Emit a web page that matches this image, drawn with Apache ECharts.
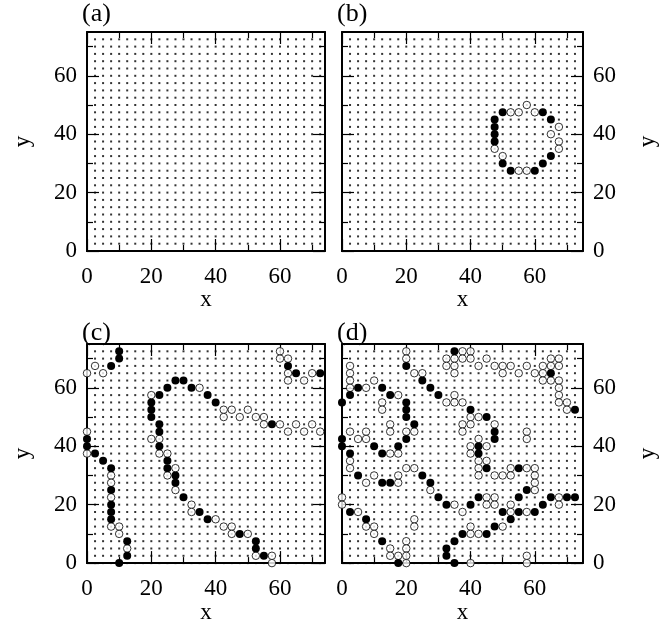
<!DOCTYPE html>
<html><head><meta charset="utf-8">
<script src="https://cdn.jsdelivr.net/npm/echarts@6/dist/echarts.min.js"></script>
<style>html,body{margin:0;padding:0;background:#fff}#c{width:669px;height:625px}</style>
</head><body><div id="c"></div>
<script>
const panelLabels = ['(a)', '(b)', '(c)', '(d)'];
const majorTicks = [0, 20, 40, 60];
const minorTicks = [10, 30, 50, 70];
const latticeSites = [0, 2.5, 5, 7.5, 10, 12.5, 15, 17.5, 20, 22.5, 25, 27.5, 30, 32.5, 35, 37.5, 40, 42.5, 45, 47.5, 50, 52.5, 55, 57.5, 60, 62.5, 65, 67.5, 70, 72.5];

const aFilled = [];
const aOpen = [];

const bFilled = [[50,47.5],[62.5,47.5],[47.5,45],[65,45],[47.5,42.5],[47.5,40],[47.5,37.5],[65,32.5],[50,30],[62.5,30],[52.5,27.5],[60,27.5]];
const bOpen = [[57.5,50],[52.5,47.5],[55,47.5],[60,47.5],[67.5,42.5],[65,40],[67.5,37.5],[47.5,35],[67.5,35],[50,32.5],[55,27.5],[57.5,27.5]];

const cFilled = [[10,72.5],[10,70],[7.5,67.5],[62.5,67.5],[65,65],[72.5,65],[22.5,57.5],[20,55],[20,52.5],[20,50],[25,60],[27.5,62.5],[30,62.5],[32.5,60],[37.5,57.5],[40,55],[57.5,47.5],[22.5,47.5],[22.5,45],[22.5,40],[25,35],[25,32.5],[27.5,30],[27.5,27.5],[30,22.5],[35,17.5],[37.5,15],[47.5,10],[52.5,7.5],[52.5,5],[55,2.5],[0,42.5],[0,40],[2.5,37.5],[5,35],[7.5,32.5],[7.5,25],[7.5,20],[7.5,17.5],[7.5,15],[12.5,7.5],[12.5,2.5],[10,0]];
const cOpen = [[2.5,67.5],[0,65],[5,65],[60,72.5],[60,70],[62.5,70],[62.5,65],[62.5,62.5],[67.5,62.5],[70,65],[20,57.5],[35,60],[42.5,52.5],[45,52.5],[42.5,50],[47.5,50],[50,52.5],[52.5,50],[55,50],[55,47.5],[60,47.5],[62.5,45],[65,47.5],[67.5,45],[70,47.5],[72.5,45],[20,42.5],[22.5,42.5],[22.5,37.5],[25,37.5],[25,30],[27.5,32.5],[27.5,25],[32.5,20],[32.5,17.5],[40,15],[42.5,12.5],[45,12.5],[45,10],[50,10],[52.5,2.5],[57.5,2.5],[57.5,0],[0,45],[0,37.5],[7.5,30],[7.5,27.5],[7.5,22.5],[7.5,12.5],[10,12.5],[10,10],[12.5,5]];

const dFilled = [[20,67.5],[35,72.5],[65,65],[72.5,52.5],[2.5,57.5],[5,60],[0,55],[12.5,60],[15,57.5],[25,62.5],[27.5,60],[30,57.5],[20,55],[20,52.5],[20,50],[22.5,47.5],[20,42.5],[40,52.5],[45,50],[47.5,45],[47.5,42.5],[0,42.5],[0,40],[10,40],[17.5,40],[12.5,37.5],[2.5,37.5],[42.5,40],[42.5,37.5],[45,32.5],[55,32.5],[57.5,25],[5,30],[12.5,27.5],[15,27.5],[25,30],[27.5,27.5],[30,22.5],[32.5,20],[40,20],[42.5,22.5],[2.5,17.5],[7.5,15],[12.5,7.5],[17.5,0],[32.5,5],[32.5,2.5],[35,7.5],[35,0],[37.5,10],[45,10],[47.5,12.5],[55,22.5],[50,17.5],[55,17.5],[60,17.5],[52.5,15],[62.5,20],[65,22.5],[70,22.5],[72.5,22.5]];
const dOpen = [[20,72.5],[20,70],[37.5,72.5],[40,72.5],[32.5,70],[35,70],[37.5,70],[40,70],[32.5,67.5],[35,67.5],[35,65],[45,70],[42.5,67.5],[47.5,67.5],[50,67.5],[52.5,67.5],[50,65],[55,65],[57.5,67.5],[60,65],[62.5,65],[62.5,67.5],[65,70],[67.5,70],[65,67.5],[67.5,67.5],[62.5,62.5],[65,62.5],[67.5,62.5],[67.5,60],[67.5,57.5],[67.5,55],[70,55],[70,52.5],[2.5,67.5],[2.5,65],[2.5,62.5],[2.5,60],[7.5,60],[10,62.5],[17.5,57.5],[12.5,55],[12.5,52.5],[22.5,65],[25,65],[32.5,55],[35,57.5],[35,55],[37.5,55],[20,45],[22.5,45],[40,50],[42.5,50],[37.5,47.5],[40,47.5],[37.5,45],[47.5,47.5],[15,47.5],[15,45],[7.5,45],[5,42.5],[7.5,42.5],[2.5,45],[15,37.5],[17.5,37.5],[2.5,35],[2.5,32.5],[42.5,42.5],[40,40],[45,40],[40,37.5],[42.5,35],[45,35],[42.5,32.5],[42.5,30],[57.5,45],[57.5,42.5],[52.5,32.5],[57.5,32.5],[60,32.5],[60,30],[60,27.5],[60,25],[47.5,30],[50,30],[52.5,30],[10,30],[17.5,27.5],[17.5,30],[7.5,27.5],[20,32.5],[22.5,32.5],[27.5,25],[35,20],[37.5,17.5],[45,22.5],[47.5,22.5],[45,20],[47.5,20],[0,22.5],[0,20],[5,17.5],[7.5,12.5],[10,12.5],[10,10],[15,5],[15,2.5],[17.5,2.5],[20,7.5],[20,5],[20,2.5],[20,0],[22.5,15],[22.5,12.5],[40,12.5],[40,10],[42.5,10],[40,0],[50,12.5],[52.5,20],[52.5,17.5],[57.5,17.5],[67.5,22.5],[67.5,20],[57.5,2.5],[57.5,0]];

const filledSets = [aFilled, bFilled, cFilled, dFilled];
const openSets = [aOpen, bOpen, cOpen, dOpen];

const FONT = 'Liberation Serif';
const grids = [
  {left: 87, top: 32, width: 238, height: 219},
  {left: 342, top: 32, width: 241, height: 219},
  {left: 87, top: 344, width: 238, height: 221},
  {left: 342, top: 344, width: 241, height: 221}
];
const xMax = [74, 75, 74, 75];
const yMax = 75;
const yLabelSide = ['left', 'right', 'left', 'right'];

const lattice = [];
latticeSites.forEach(function (x) { latticeSites.forEach(function (y) { lattice.push([x, y]); }); });

const textStyle = {fontFamily: FONT, fontSize: 23, color: '#000'};

function mkAxis(kind, g, pos, ticks, len, withLabel, withLine) {
  const isX = kind === 'x';
  return {
    type: 'value', gridIndex: g, position: pos, min: 0, max: isX ? xMax[g] : yMax,
    axisLine: {show: withLine, onZero: false, lineStyle: {color: '#000', width: 2}},
    axisTick: {show: true, inside: true, length: len, customValues: ticks, lineStyle: {color: '#000', width: 1.2}},
    axisLabel: Object.assign({show: withLabel, customValues: majorTicks, margin: isX ? 14 : 10}, textStyle),
    splitLine: {show: false},
    name: withLabel ? (isX ? 'x' : 'y') : '',
    nameLocation: 'middle',
    nameGap: isX ? 33 : 53,
    nameRotate: isX ? 0 : 90,
    nameTextStyle: textStyle
  };
}

const xAxes = [], yAxes = [];
const series = [];
for (let g = 0; g < 4; g++) {
  const xi = xAxes.length, yi = yAxes.length;
  xAxes.push(mkAxis('x', g, 'bottom', majorTicks, 12, true, true));
  xAxes.push(mkAxis('x', g, 'bottom', minorTicks, 6, false, false));
  xAxes.push(mkAxis('x', g, 'top', majorTicks, 12, false, true));
  xAxes.push(mkAxis('x', g, 'top', minorTicks, 6, false, false));
  const labSide = yLabelSide[g];
  const other = labSide === 'left' ? 'right' : 'left';
  yAxes.push(mkAxis('y', g, labSide, majorTicks, 12, true, true));
  yAxes.push(mkAxis('y', g, labSide, minorTicks, 6, false, false));
  yAxes.push(mkAxis('y', g, other, majorTicks, 12, false, true));
  yAxes.push(mkAxis('y', g, other, minorTicks, 6, false, false));

  series.push({type: 'scatter', xAxisIndex: xi, yAxisIndex: yi, data: lattice, symbol: 'rect', symbolSize: 2,
    itemStyle: {color: '#000'}, silent: true, z: 1});
  series.push({type: 'scatter', xAxisIndex: xi, yAxisIndex: yi, data: openSets[g], symbol: 'circle', symbolSize: 7.5,
    itemStyle: {color: '#fff', borderColor: '#000', borderWidth: 1}, clip: false, z: 3});
  series.push({type: 'scatter', xAxisIndex: xi, yAxisIndex: yi, data: filledSets[g], symbol: 'circle', symbolSize: 8,
    itemStyle: {color: '#000', opacity: 1}, clip: false, z: 4});
}

const labelPos = [[82, 1], [337, 1], [82, 320], [337, 320]];
const graphic = panelLabels.map(function (t, i) {
  return {type: 'text', left: labelPos[i][0], top: labelPos[i][1],
    style: {text: t, font: '26px "' + FONT + '"', fill: '#000'}};
});

const chart = echarts.init(document.getElementById('c'), null, {renderer: 'canvas'});
chart.setOption({
  animation: false,
  backgroundColor: '#fff',
  grid: grids,
  xAxis: xAxes,
  yAxis: yAxes,
  series: series,
  graphic: graphic
});
</script></body></html>
